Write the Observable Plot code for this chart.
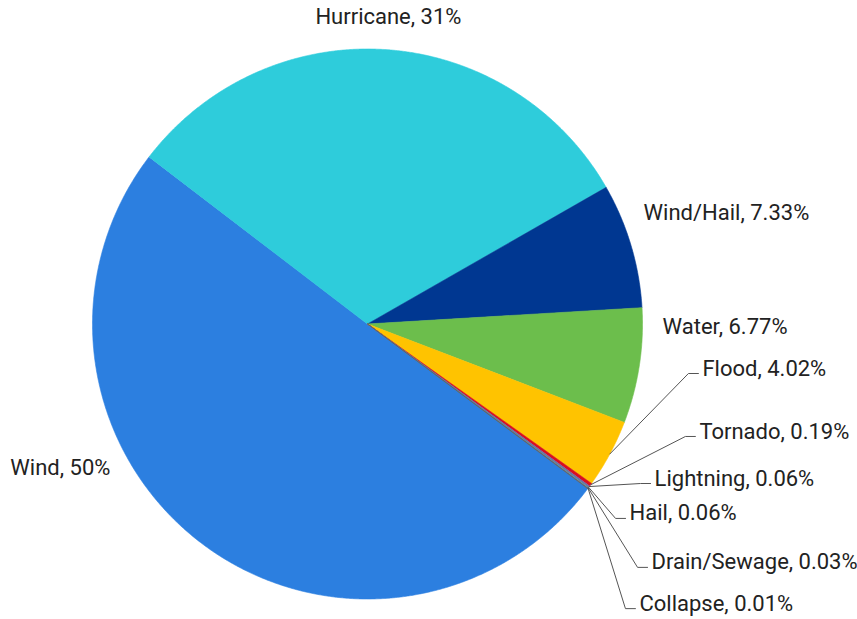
<!DOCTYPE html>
<html>
<head>
<meta charset="utf-8">
<script src="https://cdn.jsdelivr.net/npm/d3@7"></script>
<script src="https://cdn.jsdelivr.net/npm/@observablehq/plot@0.6"></script>
<style>
  html, body { margin: 0; padding: 0; background: #fff; }
  #chart { width: 857px; height: 619px; }
</style>
</head>
<body>
<div id="chart"></div>
<script>
// ---- data ----
const categories = ["Wind", "Hurricane", "Wind/Hail", "Water", "Flood", "Tornado", "Lightning", "Hail", "Drain/Sewage", "Collapse"];
const shares = [50.2, 31.33, 7.33, 6.77, 4.02, 0.19, 0.06, 0.06, 0.03, 0.01];
const colors = ["#2C7FE0", "#2ECCDB", "#003791", "#6CBE4C", "#FFC300", "#D90E1E", "#7A5BA8", "#4F8A9A", "#8A8F99", "#555A60"];

// ---- layout (label placement in pie-radius units) ----
const directLabels = {
  "Hurricane": {x: 0.076, y: 1.115, anchor: "middle"},
  "Wind/Hail": {x: 1.004, y: 0.405, anchor: "start"},
  "Water": {x: 1.073, y: -0.009, anchor: "start"},
  "Wind": {x: -0.935, y: -0.525, anchor: "end"}
};
const leaderLabels = {
  "Flood": {x: 1.167, y: -0.180},
  "Tornado": {x: 1.156, y: -0.409},
  "Lightning": {x: 0.993, y: -0.580},
  "Hail": {x: 0.902, y: -0.707},
  "Drain/Sewage": {x: 0.982, y: -0.885},
  "Collapse": {x: 0.938, y: -1.035}
};
const startDeg = 126.7;

// ---- build ----
const rows = categories.map((c, i) => ({cat: c, v: shares[i]}));
const a0 = startDeg * Math.PI / 180;
const arcs = d3.pie().sort(null).value(d => d.v).startAngle(a0).endAngle(a0 + 2 * Math.PI)(rows);

const fmt = v => (v >= 10 ? Math.round(v) : v.toFixed(2)) + "%";

const polys = [];
for (const a of arcs) {
  const n = Math.max(2, Math.ceil((a.endAngle - a.startAngle) / (0.25 * Math.PI / 180)));
  polys.push({cat: a.data.cat, x: 0, y: 0});
  for (let k = 0; k <= n; k++) {
    const t = a.startAngle + (a.endAngle - a.startAngle) * k / n;
    polys.push({cat: a.data.cat, x: Math.sin(t), y: Math.cos(t)});
  }
}

const seg = 10 / 275, gap = 14 / 275;
const leaderPts = [];
const leaderText = [];
const directText = [];
for (const a of arcs) {
  const c = a.data.cat;
  const mid = (a.startAngle + a.endAngle) / 2;
  if (leaderLabels[c]) {
    const L = leaderLabels[c];
    leaderPts.push({cat: c, x: Math.sin(mid), y: Math.cos(mid)});
    leaderPts.push({cat: c, x: L.x, y: L.y});
    leaderPts.push({cat: c, x: L.x + seg, y: L.y});
    leaderText.push({x: L.x + gap, y: L.y, label: `${c}, ${fmt(a.data.v)}`});
  } else if (directLabels[c]) {
    const D = directLabels[c];
    directText.push({x: D.x, y: D.y, anchor: D.anchor, label: `${c}, ${fmt(a.data.v)}`});
  }
}

const textStyle = {fontSize: 22, fill: "#222"};

const chart = Plot.plot({
  width: 857,
  height: 619,
  x: {domain: [-1, 1], range: [92, 642], axis: null},
  y: {domain: [-1, 1], range: [598.5, 48.5], axis: null},
  color: {domain: categories, range: colors},
  style: {fontFamily: "Roboto, sans-serif", background: "#fff"},
  marks: [
    Plot.line(polys, {x: "x", y: "y", z: "cat", fill: "cat", stroke: "cat", strokeWidth: 0.6, curve: "linear-closed"}),
    Plot.line(leaderPts, {x: "x", y: "y", z: "cat", stroke: "#555", strokeWidth: 1, curve: "linear"}),
    Plot.text(leaderText, {x: "x", y: "y", text: "label", textAnchor: "start", dy: -5, ...textStyle}),
    Plot.text(directText.filter(d => d.anchor === "middle"), {x: "x", y: "y", text: "label", textAnchor: "middle", ...textStyle}),
    Plot.text(directText.filter(d => d.anchor === "start"), {x: "x", y: "y", text: "label", textAnchor: "start", ...textStyle}),
    Plot.text(directText.filter(d => d.anchor === "end"), {x: "x", y: "y", text: "label", textAnchor: "end", ...textStyle})
  ]
});
document.getElementById("chart").appendChild(chart);
</script>
</body>
</html>
